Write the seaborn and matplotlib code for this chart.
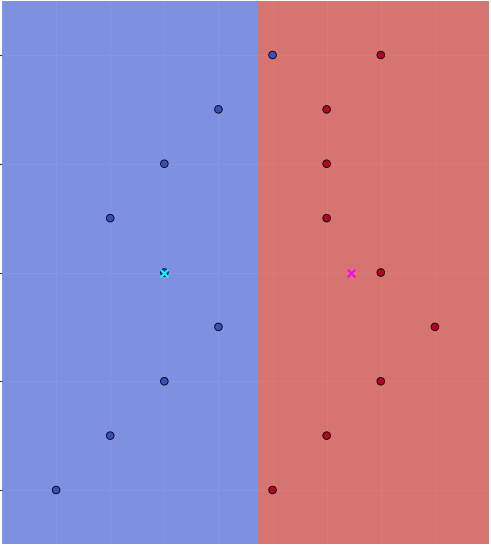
import numpy as np
import matplotlib
matplotlib.use("Agg")
import matplotlib.pyplot as plt
import seaborn as sns

# two classes of points
x0 = [4, 3, 2, 1, 2, 3, 2, 1, 0]
y0 = [8, 7, 6, 5, 4, 3, 2, 1, 0]
x1 = [6, 5, 5, 5, 6, 7, 6, 5, 4]
y1 = [8, 7, 6, 5, 4, 3, 2, 1, 0]

X = np.array(list(zip(x0 + x1, y0 + y1)), dtype=float)
labels = np.array([0] * len(x0) + [1] * len(x1))

# nearest-centroid classifier
centroids = np.array([X[labels == k].mean(axis=0) for k in (0, 1)])

x_min, x_max = X[:, 0].min() - 1, X[:, 0].max() + 1
y_min, y_max = X[:, 1].min() - 1, X[:, 1].max() + 1
h = 0.02
xx, yy = np.meshgrid(np.arange(x_min, x_max + h, h), np.arange(y_min, y_max + h, h))
grid = np.c_[xx.ravel(), yy.ravel()]
d = ((grid[:, None, :] - centroids[None, :, :]) ** 2).sum(axis=2)
Z = d.argmin(axis=1).reshape(xx.shape)

sns.set_style("darkgrid")
fig = plt.figure(figsize=(4.91, 5.46), dpi=100)
ax = fig.add_axes([2 / 491, 2 / 546, 487 / 491, 543 / 546])

ax.contourf(xx, yy, Z, cmap=plt.cm.coolwarm, alpha=0.7, antialiased=False)
ax.scatter(X[:, 0], X[:, 1], c=labels, cmap=plt.cm.coolwarm, edgecolors="k", s=30, linewidths=0.6)
ax.scatter(centroids[0, 0], centroids[0, 1], marker="x", color="cyan", s=30, linewidths=1.5)
ax.scatter(centroids[1, 0], centroids[1, 1], marker="x", color="magenta", s=30, linewidths=1.5)

ax.set_xlim(-0.976, 7.994)
ax.set_ylim(-0.993, 8.993)
ax.set_xticks(np.arange(-1, 9, 1))
ax.set_yticks(np.arange(0, 9, 2))
ax.set_xticklabels([])
ax.set_yticklabels([])
ax.tick_params(axis="y", left=True, length=3, color="#333333")
for s in ax.spines.values():
    s.set_visible(False)

fig.savefig("out.png", dpi=100)
